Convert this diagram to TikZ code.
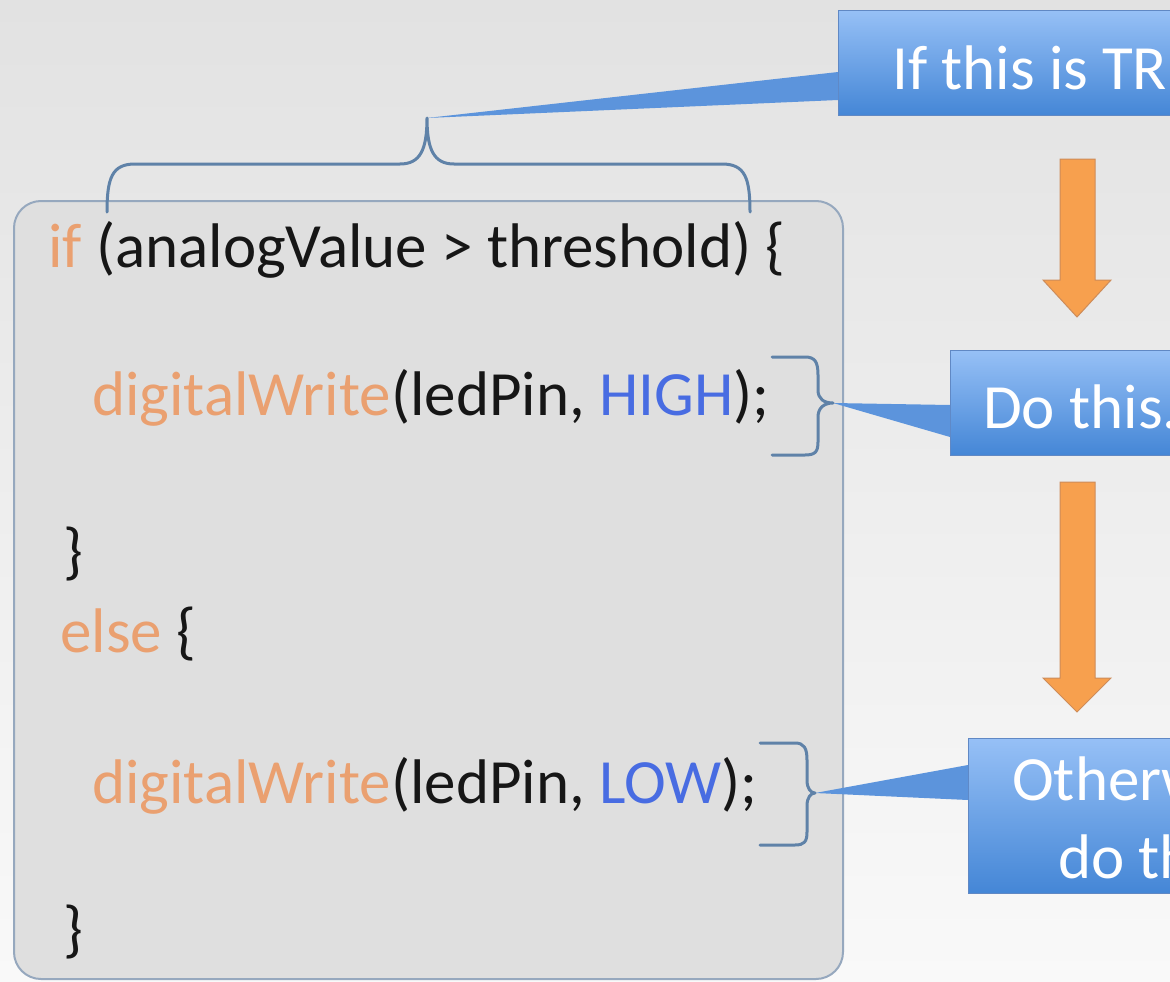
\documentclass[tikz,border=0pt]{standalone}
\usepackage{fontspec}
\setmainfont{Carlito}
\usetikzlibrary{calc}
\definecolor{bgtop}{RGB}{226,226,226}
\definecolor{bgbot}{RGB}{249,249,249}
\definecolor{codefill}{RGB}{223,223,223}
\definecolor{codeedge}{RGB}{150,168,190}
\definecolor{kw}{RGB}{234,160,112}
\definecolor{cst}{RGB}{72,108,226}
\definecolor{codeblack}{RGB}{22,22,22}
\definecolor{bracecol}{RGB}{95,130,168}
\definecolor{ctop}{RGB}{150,192,246}
\definecolor{cbot}{RGB}{68,134,214}
\definecolor{cedge}{RGB}{96,136,196}
\definecolor{cptr}{RGB}{92,148,220}
\definecolor{arrfill}{RGB}{247,160,78}
\definecolor{arredge}{RGB}{205,140,90}
\begin{document}
\begin{tikzpicture}[x=1pt,y=-1pt,
  codetext/.style={anchor=base west, inner sep=0pt, text=codeblack, font=\fontsize{63}{76}\selectfont},
  ctext/.style={anchor=base west, inner sep=0pt, text=white, font=\fontsize{63}{76}\selectfont},
  codeboxstyle/.style={draw=codeedge, line width=2pt, fill=codefill, rounded corners=27pt, inner sep=0pt},
  calloutbox/.style={draw=cedge, line width=1.2pt, top color=ctop, bottom color=cbot, inner sep=0pt, anchor=north west},
  bracestyle/.style={draw=bracecol, line width=3pt, line cap=round, line join=round},
  pointer/.style={fill=cptr},
  flowarrow/.style={fill=arrfill, draw=arredge, line width=1pt, line join=miter}
]
\useasboundingbox (0,0) rectangle (1170,982);
\begin{scope}
\clip (0,0) rectangle (1170,982);
\shade[top color=bgtop, bottom color=bgbot] (0,0) rectangle (1170,982);

% code box
\node[codeboxstyle, minimum width=829pt, minimum height=778pt, anchor=north west] (codebox) at (13,200) {};

% code lines
\node[codetext] (l1) at (48,267) {\textcolor{kw}{if} (analogValue > threshold) \{};
\node[codetext] (l2) at (92,415) {\textcolor{kw}{digitalWrite}(ledPin, \textcolor{cst}{HIGH});};
\node[codetext] (l3) at (63,572) {\}};
\node[codetext] (l4) at (60,652) {\textcolor{kw}{else} \{};
\node[codetext] (l5) at (92,803) {\textcolor{kw}{digitalWrite}(ledPin, \textcolor{cst}{LOW});};
\node[codetext] (l6) at (63,950) {\}};

% callout boxes
\node[calloutbox, minimum width=420pt, minimum height=105pt] (c1) at (838,10) {};
\node[calloutbox, minimum width=300pt, minimum height=105pt] (c2) at (950,350) {};
\node[calloutbox, minimum width=300pt, minimum height=155pt] (c3) at (968,738) {};

\node[ctext] (t1) at (892,89) {If this is TRUE};
\node[ctext] (t2) at (983,428) {Do this.};
\node[ctext] (t3a) at (1012,800) {Otherwise,};
\node[ctext] (t3b) at (1058,878) {do this.};

% brace tips
\coordinate (tip1) at (427,118);
\coordinate (tip2) at (833,403);
\coordinate (tip3) at (815,793);

% pointers
\fill[pointer] (tip1) -- ($(c1.north west)+(0,62)$) -- ($(c1.north west)+(0,90)$) -- cycle;
\fill[pointer] (tip2) -- ($(c2.north west)+(0,55)$) -- ($(c2.north west)+(0,87)$) -- cycle;
\fill[pointer] (tip3) -- ($(c3.north west)+(0,27)$) -- ($(c3.north west)+(0,62)$) -- cycle;

% braces
\draw[bracestyle] (107,212) .. controls (107,178) and (112,164) .. (135,164) -- (400,164)
  .. controls (420,164) and (427,150) .. (tip1)
  .. controls (427,150) and (434,164) .. (454,164) -- (722,164)
  .. controls (745,164) and (750,178) .. (750,212);
\draw[bracestyle] (772,357) -- (805,357) .. controls (815,357) and (818,362) .. (818,375) -- (818,390)
  .. controls (818,399) and (824,403) .. (tip2)
  .. controls (824,403) and (818,408) .. (818,417) -- (818,442)
  .. controls (818,452) and (815,455) .. (805,455) -- (772,455);
\draw[bracestyle] (760,743) -- (795,743) .. controls (804,743) and (807,748) .. (807,760) -- (807,780)
  .. controls (807,789) and (811,793) .. (tip3)
  .. controls (811,793) and (807,797) .. (807,806) -- (807,832)
  .. controls (807,842) and (804,845) .. (795,845) -- (760,845);

% flow arrows
\draw[flowarrow] (1060,159) -- (1095,159) -- (1095,280) -- (1111,280) -- (1077,317) -- (1043,280) -- (1060,280) -- cycle;
\draw[flowarrow] (1060,482) -- (1095,482) -- (1095,678) -- (1111,678) -- (1077,712) -- (1043,678) -- (1060,678) -- cycle;
\end{scope}
\end{tikzpicture}
\end{document}
